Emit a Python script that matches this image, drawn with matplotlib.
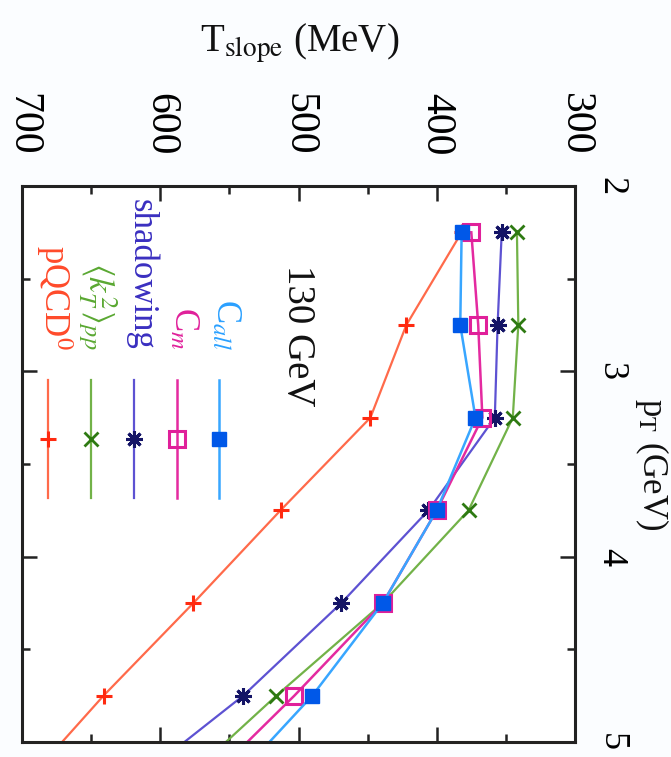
import matplotlib
matplotlib.use('Agg')
import matplotlib.pyplot as plt
from matplotlib.ticker import MultipleLocator

plt.rcParams['font.family'] = ['Liberation Serif', 'DejaVu Serif']
plt.rcParams['mathtext.fontset'] = 'stix'

# data: p_T (GeV) and T_slope (MeV) per model
pt = [2.25, 2.75, 3.25, 3.75, 4.25, 4.75, 5.25]
t_call = [382, 383, 372, 400, 439, 490, 552]
t_cm = [375, 370, 367, 400, 439, 503, 571]
t_shadowing = [353, 356, 358, 406, 469, 540, 625]
t_kt2pp = [342, 341, 345, 377, 439, 516, 589]
t_pqcd0 = [382, 422, 448, 513, 576, 641, 701]

labels = [r'pQCD$^0$', r'$\langle k_T^2\rangle_{pp}$', 'shadowing', r'C$_m$', r'C$_{all}$']
label_colors = ['#ff4a2a', '#5aa832', '#3a2fc0', '#e0209a', '#2aa0ff']

fig = plt.figure(figsize=(6.71, 7.57), dpi=100)
fig.patch.set_facecolor('#fbfdff')
ax = fig.add_axes([22/671, 1-742/757, 553/671, 556/757])
ax.set_facecolor('white')
ax.set_xlim(700, 300)
ax.set_ylim(5, 2)

styles = [
    (t_pqcd0, dict(color='#ff6a4a', lw=1.6, marker='+', ms=11, mew=2.2, mec='#ff2a10')),
    (t_kt2pp, dict(color='#72b248', lw=1.6, marker='x', ms=10, mew=2.0, mec='#2e7a12')),
    (t_shadowing, dict(color='#5d52d2', lw=1.6, marker=(8, 2, 0), ms=12, mew=2.2, mec='#141466')),
    (t_cm, dict(color='#e42aa0', lw=1.8, marker='s', ms=11, mew=2.2, mfc='none', mec='#e0209a')),
    (t_call, dict(color='#38a6ff', lw=1.8, marker='s', ms=10, mew=1.0, mfc='#0058e8', mec='#0058e8')),
]
for vals, st in styles:
    ax.plot(vals, pt, **st)

# manual (rotated) key
key_x = [0.047, 0.125, 0.203, 0.280, 0.356]
for (vals, st), kx, lab, lc in zip(styles, key_x, labels, label_colors):
    ax.plot([kx, kx], [0.439, 0.651], transform=ax.transAxes, color=st['color'], lw=st['lw'], clip_on=False)
    mst = {k: v for k, v in st.items() if k not in ('color', 'lw')}
    ax.plot([kx], [0.545], transform=ax.transAxes, ls='none', **mst)
    ax.text(kx + 0.012, 0.705, lab, transform=ax.transAxes, rotation=270, rotation_mode='anchor',
            ha='right', va='center', fontsize=25, color=lc)

ax.text(0.499, 0.73, '130 GeV', transform=ax.transAxes, rotation=270, ha='center', va='center',
        fontsize=28, color='#111111')

for sp in ax.spines.values():
    sp.set_linewidth(2.2)
    sp.set_color('#222222')

ax.xaxis.set_major_locator(MultipleLocator(100))
ax.xaxis.set_minor_locator(MultipleLocator(50))
ax.yaxis.set_major_locator(MultipleLocator(1))
ax.yaxis.set_minor_locator(MultipleLocator(0.5))
ax.tick_params(which='both', direction='in', top=True, bottom=True, left=True, right=True,
               labeltop=True, labelbottom=False, labelleft=False, labelright=True,
               width=1.8, color='#222222')
ax.tick_params(which='major', length=11)
ax.tick_params(which='minor', length=6)
ax.tick_params(axis='x', labelrotation=270, labelsize=30, pad=22)
ax.tick_params(axis='y', labelrotation=270, labelsize=26, pad=14)
for t in ax.get_yticklabels():
    t.set_va('center')

fig.text(300/671, 1-43/757, r'T$_{\rm slope}$ (MeV)', ha='center', va='center', fontsize=28, color='#111111')
fig.text(652/671, 1-464/757, r'p$_{\rm T}$ (GeV)', rotation=270, ha='center', va='center', fontsize=25, color='#111111')

fig.savefig('out.png', dpi=100, facecolor=fig.get_facecolor())
